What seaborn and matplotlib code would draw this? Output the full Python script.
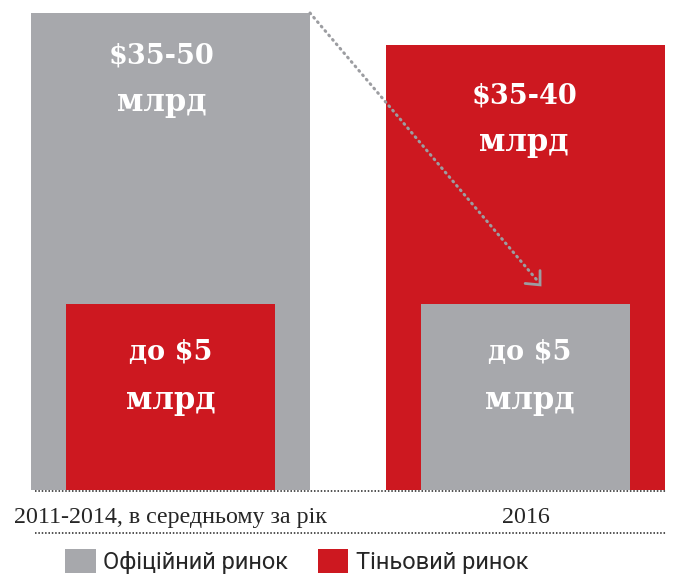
import numpy as np
import matplotlib
matplotlib.use("Agg")
import matplotlib.pyplot as plt
from matplotlib.patches import Patch
from matplotlib.lines import Line2D
import seaborn as sns

GRAY = "#a7a8ac"
RED = "#cd1820"
ARROW = "#9c9da1"

# data (bar heights are illustrative, top of left bar = 100)
periods = ["2011-2014, в середньому за рік", "2016"]
outer_height = [100.0, 93.3]
inner_height = [39.0, 39.0]
outer_colors = [GRAY, RED]
inner_colors = [RED, GRAY]
outer_values = ["$35-50", "$35-40"]
inner_values = ["до $5", "до $5"]
unit = "млрд"
legend_labels = ["Офіційний ринок", "Тіньовий ринок"]

sns.set_style("white")
plt.rcParams["font.family"] = ["Liberation Serif", "DejaVu Serif"]
SERIF = ["DejaVu Serif"]
SANS = ["Liberation Sans Narrow", "DejaVu Sans Condensed", "Roboto", "DejaVu Sans"]

fig = plt.figure(figsize=(6.78, 5.79), dpi=100)
ax = fig.add_axes([31 / 678, 89 / 579, 634 / 678, 477 / 579])

sns.barplot(x=periods, y=outer_height, hue=periods, palette=outer_colors,
            width=0.786, saturation=1, linewidth=0, legend=False, ax=ax)
sns.barplot(x=periods, y=inner_height, hue=periods, palette=inner_colors,
            width=0.586, saturation=1, linewidth=0, legend=False, ax=ax)

ax.set_xlim(-0.393, 1.393)
ax.set_ylim(0, 100)
for s in ax.spines.values():
    s.set_visible(False)
ax.set_yticks([])
ax.set_xlabel("")
ax.set_ylabel("")
ax.tick_params(axis="x", length=0, pad=12, labelsize=17.3)

# value labels
big_kw = dict(ha="center", va="center", color="white", fontsize=19.5,
              fontweight="bold", family=SERIF)
unit_kw = dict(big_kw, fontsize=22)
top_offsets = [(-0.024, -0.6), (-0.004, -2.2)]
for i, (val, h) in enumerate(zip(outer_values, outer_height)):
    dx, dy = top_offsets[i]
    ax.text(i + dx, h - 8.4 + dy, val, **big_kw)
    ax.text(i + dx, h - 18.2 + dy, unit, **unit_kw)
inner_dx = [0.0, 0.013]
for i, (val, h) in enumerate(zip(inner_values, inner_height)):
    ax.text(i + inner_dx[i], h - 10.2, val, **big_kw)
    ax.text(i + inner_dx[i], h - 20.3, unit, **unit_kw)

# dotted arrow from left bar corner to the inner bar on the right
x0, y0 = 0.393, outer_height[0]
tx, ty = 1.041, 43.0
ax.plot([x0, tx - 0.004], [y0, ty + 0.6], color=ARROW, lw=2.2,
        linestyle=(0, (0.3, 1.6)), dash_capstyle="round", clip_on=False)
ax.plot([tx - 0.042, tx, tx], [ty + 0.3, ty, ty + 3.0], color=ARROW, lw=2,
        solid_joinstyle="miter", clip_on=False)

# dotted rules
for yy in [490.5, 533]:
    fig.add_artist(Line2D([35 / 678, 666 / 678], [1 - yy / 579, 1 - yy / 579],
                          color="#222222", lw=1.1, linestyle=(0, (1, 1.2))))

handles = [Patch(facecolor=GRAY, edgecolor="none"),
           Patch(facecolor=RED, edgecolor="none")]
fig.legend(handles, legend_labels, loc="lower left",
           bbox_to_anchor=(65 / 678, 5 / 579), ncol=2, frameon=False,
           prop={"family": SANS, "size": 17}, handlelength=1.31,
           handleheight=1.15, handletextpad=0.3, columnspacing=1.25,
           borderpad=0, borderaxespad=0)

fig.savefig("out.png", dpi=100, facecolor="white")
